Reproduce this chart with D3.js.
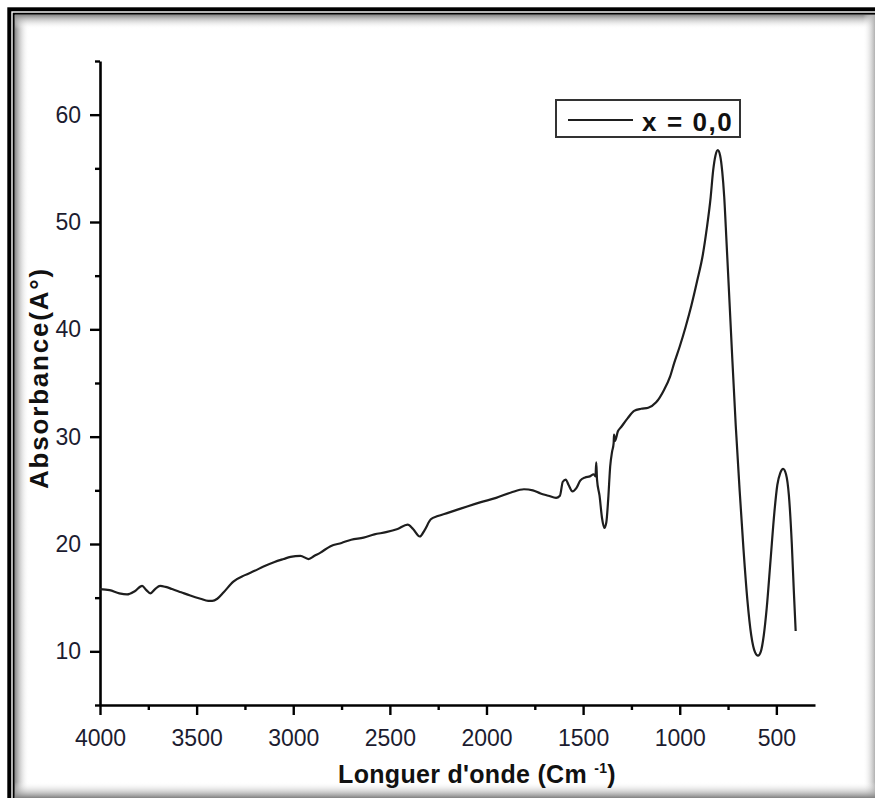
<!DOCTYPE html>
<html>
<head>
<meta charset="utf-8">
<script src="https://cdn.jsdelivr.net/npm/d3@7"></script>
<style>
  html, body { margin: 0; padding: 0; background: #fff; }
  svg { display: block; }
  text { font-family: Arial, "Liberation Sans", sans-serif; }
</style>
</head>
<body>
<svg id="chart" width="875" height="798"></svg>
<script>
// FTIR spectrum, x = 0,0 sample
const wavenumber = [
  4000, 3950, 3900, 3860, 3820, 3782, 3760, 3740, 3715, 3689, 3660, 3627, 3580, 3533, 3480, 3440,
  3419, 3393, 3360, 3310, 3250, 3200, 3154, 3100, 3050, 3014, 2963, 2921, 2890, 2859, 2807, 2750,
  2700, 2636, 2580, 2520, 2460, 2408, 2380, 2345, 2320, 2288, 2252, 2200, 2150, 2100, 2029, 1950,
  1873, 1806, 1760, 1720, 1680, 1640, 1620, 1605, 1590, 1575, 1555, 1535, 1515, 1490, 1465, 1445,
  1436, 1432, 1428, 1415, 1402, 1390, 1380, 1370, 1360, 1350, 1342, 1340, 1335, 1320, 1303, 1270,
  1236, 1200, 1163, 1122, 1080, 1050, 1028, 1000, 970, 940, 910, 880, 860, 840, 827, 815,
  803, 791, 780, 770, 758, 745, 730, 710, 690, 670, 650, 630, 610, 595, 580, 565, 550,
  530, 510, 495, 480, 465, 450, 435, 420, 410, 400
];
const absorbance = [
  15.8, 15.7, 15.4, 15.3, 15.6, 16.1, 15.7, 15.4, 15.8, 16.1, 16.0, 15.8, 15.5, 15.2, 14.9, 14.7,
  14.7, 14.9, 15.5, 16.5, 17.1, 17.5, 17.9, 18.3, 18.6, 18.8, 18.9, 18.6, 18.9, 19.2, 19.8, 20.1,
  20.4, 20.6, 20.9, 21.1, 21.4, 21.8, 21.4, 20.7, 21.3, 22.3, 22.6, 22.9, 23.2, 23.5, 23.9, 24.3,
  24.8, 25.1, 25.0, 24.7, 24.5, 24.3, 24.5, 25.8, 26.0, 25.5, 24.9, 25.2, 25.9, 26.2, 26.3, 26.5,
  26.3, 27.6, 26.0, 24.5, 22.4, 21.5, 22.0, 24.2, 27.2, 28.6, 29.4, 30.2, 29.6, 30.5, 30.9, 31.7,
  32.4, 32.6, 32.7, 33.2, 34.4, 35.6, 36.9, 38.4, 40.2, 42.2, 44.5, 47.0, 49.4, 52.3, 54.8, 56.2,
  56.7, 56.2, 54.7, 52.4, 48.2, 43.5, 38.0, 31.0, 25.0, 19.5, 14.8, 11.5, 9.9, 9.6, 10.0, 11.5, 14.0,
  18.5, 23.0, 25.5, 26.6, 27.0, 26.5, 24.5, 20.0, 15.8, 11.9
];

const xMajorTicks = [4000, 3500, 3000, 2500, 2000, 1500, 1000, 500];
const xMinorTicks = [3750, 3250, 2750, 2250, 1750, 1250, 750];
const yMajorTicks = [10, 20, 30, 40, 50, 60];
const yMinorTicks = [5, 15, 25, 35, 45, 55, 65];
const seriesName = "x = 0,0";

const svg = d3.select("#chart");
const W = 875, H = 798;

// ---- picture frame with inner shadow ----
const defs = svg.append("defs");
function grad(id, x1, y1, x2, y2, c) {
  const g = defs.append("linearGradient").attr("id", id)
    .attr("x1", x1).attr("y1", y1).attr("x2", x2).attr("y2", y2);
  g.append("stop").attr("offset", "0%").attr("stop-color", c).attr("stop-opacity", 1);
  g.append("stop").attr("offset", "100%").attr("stop-color", "#fff").attr("stop-opacity", 0);
}
grad("shL", "0", "0", "1", "0", "#8a8a8a");
grad("shT", "0", "0", "0", "1", "#8a8a8a");
grad("shR", "1", "0", "0", "0", "#b0b0b0");
grad("shB", "0", "1", "0", "0", "#808080");

svg.append("rect").attr("x", 15).attr("y", 15).attr("width", 14).attr("height", H).attr("fill", "url(#shL)");
svg.append("rect").attr("x", 15).attr("y", 15).attr("width", W).attr("height", 14).attr("fill", "url(#shT)");
svg.append("rect").attr("x", W - 12).attr("y", 15).attr("width", 12).attr("height", H).attr("fill", "url(#shR)");
svg.append("rect").attr("x", 15).attr("y", H - 16).attr("width", W).attr("height", 16).attr("fill", "url(#shB)");

svg.append("rect").attr("x", 9.3).attr("y", 9.3).attr("width", W + 40).attr("height", H + 40)
  .attr("fill", "none").attr("stroke", "#000").attr("stroke-width", 4);
svg.append("rect").attr("x", 13.7).attr("y", 13.7).attr("width", W + 40).attr("height", H + 40)
  .attr("fill", "none").attr("stroke", "#000").attr("stroke-width", 2);

// ---- scales ----
const x = d3.scaleLinear().domain([4000, 300]).range([100, 815]);
const y = d3.scaleLinear().domain([5, 65]).range([705, 61]);

const tickColor = "#1c1c30";
const fontStack = "Arial, 'Liberation Sans', sans-serif";

// ---- y axis ----
const gy = svg.append("g").attr("transform", "translate(100,0)");
gy.call(d3.axisLeft(y).tickValues(yMajorTicks).tickSize(10).tickSizeOuter(0).tickPadding(9));
gy.append("g").call(d3.axisLeft(y).tickValues(yMinorTicks).tickSize(5).tickSizeOuter(0).tickFormat(""))
  .select(".domain").remove();
gy.selectAll(".domain").attr("stroke", "#000").attr("stroke-width", 2.6);
gy.selectAll(".tick line").attr("stroke", "#000").attr("stroke-width", 2.4);
gy.selectAll(".tick text").attr("font-size", 23).attr("fill", tickColor)
  .attr("font-family", fontStack);

// ---- x axis ----
const gx = svg.append("g").attr("transform", "translate(0,705)");
gx.call(d3.axisBottom(x).tickValues(xMajorTicks).tickFormat(d3.format("d"))
  .tickSize(10).tickSizeOuter(0).tickPadding(15));
gx.append("g").call(d3.axisBottom(x).tickValues(xMinorTicks).tickSize(5).tickSizeOuter(0).tickFormat(""))
  .select(".domain").remove();
gx.selectAll(".domain").attr("stroke", "#000").attr("stroke-width", 2.6);
gx.selectAll(".tick line").attr("stroke", "#000").attr("stroke-width", 2.4);
gx.selectAll(".tick text").attr("font-size", 23).attr("fill", tickColor)
  .attr("font-family", fontStack);

// ---- spectrum line ----
const pts = wavenumber.map((w, i) => [w, absorbance[i]]);
const line = d3.line().x(d => x(d[0])).y(d => y(d[1])).curve(d3.curveMonotoneX);
svg.append("path").datum(pts).attr("d", line)
  .attr("fill", "none").attr("stroke", "#1e1e1e").attr("stroke-width", 2.2)
  .attr("stroke-linejoin", "round");

// ---- axis titles ----
svg.append("text")
  .attr("transform", "translate(48,378) rotate(-90)")
  .attr("text-anchor", "middle")
  .attr("font-size", 26).attr("font-weight", "bold").attr("fill", "#111")
  .attr("letter-spacing", 1.8)
  .text("Absorbance(A°)");

const xt = svg.append("text")
  .attr("x", 477).attr("y", 783)
  .attr("text-anchor", "middle")
  .attr("font-size", 25).attr("font-weight", "bold").attr("fill", "#111")
  .attr("letter-spacing", 0.3);
xt.append("tspan").text("Longuer d'onde (Cm ");
xt.append("tspan").attr("font-size", 14).attr("dy", -10).text("-1");
xt.append("tspan").attr("dy", 10).text(")");

// ---- legend ----
const lg = svg.append("g");
lg.append("rect").attr("x", 556).attr("y", 100).attr("width", 184).attr("height", 37)
  .attr("fill", "#fff").attr("stroke", "#333").attr("stroke-width", 2);
lg.append("line").attr("x1", 568).attr("x2", 633).attr("y1", 120).attr("y2", 120)
  .attr("stroke", "#1e1e1e").attr("stroke-width", 2);
lg.append("text").attr("x", 642).attr("y", 131)
  .attr("font-size", 26).attr("font-weight", "bold").attr("fill", "#111")
  .attr("letter-spacing", 1.6)
  .text(seriesName);
</script>
</body>
</html>
